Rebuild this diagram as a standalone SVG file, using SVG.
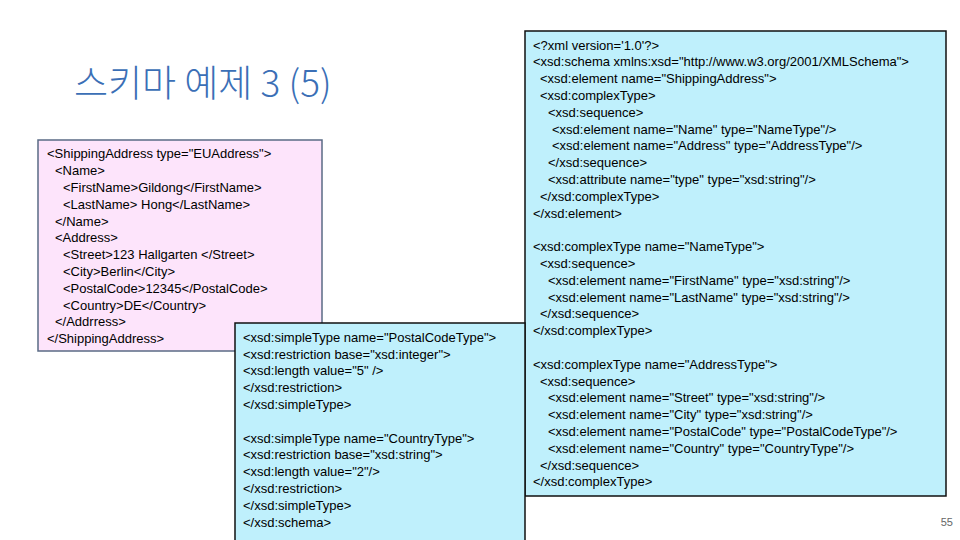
<svg xmlns="http://www.w3.org/2000/svg" width="960" height="540" viewBox="0 0 960 540">
<style>
.t{font-family:"Liberation Sans",Arial,sans-serif;font-size:13px;fill:#000;white-space:pre}
.box{stroke-width:1.5}
</style>
<rect width="960" height="540" fill="#fff"/>
<text x="74" y="97" font-family="'Noto Sans CJK KR','Noto Sans',sans-serif" font-size="37" font-weight="300" fill="#3b6fb6">스키마 예제 3 (5)</text>
<g id="xml-instance">
<rect class="box" x="38" y="140" width="284" height="211" fill="#fde4fb" stroke="#5a6b85" stroke-width="2"/>
<text class="t" x="47" y="158">&lt;ShippingAddress type="EUAddress"&gt;</text>
<text class="t" x="55" y="175">&lt;Name&gt;</text>
<text class="t" x="63" y="192">&lt;FirstName&gt;Gildong&lt;/FirstName&gt;</text>
<text class="t" x="63" y="209">&lt;LastName&gt; Hong&lt;/LastName&gt;</text>
<text class="t" x="55" y="226">&lt;/Name&gt;</text>
<text class="t" x="55" y="242">&lt;Address&gt;</text>
<text class="t" x="63" y="259">&lt;Street&gt;123 Hallgarten &lt;/Street&gt;</text>
<text class="t" x="63" y="276">&lt;City&gt;Berlin&lt;/City&gt;</text>
<text class="t" x="63" y="293">&lt;PostalCode&gt;12345&lt;/PostalCode&gt;</text>
<text class="t" x="63" y="310">&lt;Country&gt;DE&lt;/Country&gt;</text>
<text class="t" x="55" y="326">&lt;/Addrress&gt;</text>
<text class="t" x="47" y="343">&lt;/ShippingAddress&gt;</text>
</g>
<g id="schema-main">
<rect x="525" y="31" width="421" height="465" fill="#bff0fc" stroke="#111" stroke-width="1.5"/>
<text class="t" x="533" y="50">&lt;?xml version='1.0'?&gt;</text>
<text class="t" x="533" y="66">&lt;xsd:schema xmlns:xsd="http://www.w3.org/2001/XMLSchema"&gt;</text>
<text class="t" x="540" y="83">&lt;xsd:element name="ShippingAddress"&gt;</text>
<text class="t" x="540" y="100">&lt;xsd:complexType&gt;</text>
<text class="t" x="548" y="117">&lt;xsd:sequence&gt;</text>
<text class="t" x="552" y="134">&lt;xsd:element name="Name" type="NameType"/&gt;</text>
<text class="t" x="552" y="150">&lt;xsd:element name="Address" type="AddressType"/&gt;</text>
<text class="t" x="548" y="167">&lt;/xsd:sequence&gt;</text>
<text class="t" x="548" y="184">&lt;xsd:attribute name="type" type="xsd:string"/&gt;</text>
<text class="t" x="540" y="201">&lt;/xsd:complexType&gt;</text>
<text class="t" x="533" y="218">&lt;/xsd:element&gt;</text>
<text class="t" x="533" y="251">&lt;xsd:complexType name="NameType"&gt;</text>
<text class="t" x="540" y="268">&lt;xsd:sequence&gt;</text>
<text class="t" x="548" y="285">&lt;xsd:element name="FirstName" type="xsd:string"/&gt;</text>
<text class="t" x="548" y="302">&lt;xsd:element name="LastName" type="xsd:string"/&gt;</text>
<text class="t" x="540" y="318">&lt;/xsd:sequence&gt;</text>
<text class="t" x="533" y="335">&lt;/xsd:complexType&gt;</text>
<text class="t" x="533" y="369">&lt;xsd:complexType name="AddressType"&gt;</text>
<text class="t" x="540" y="386">&lt;xsd:sequence&gt;</text>
<text class="t" x="548" y="402">&lt;xsd:element name="Street" type="xsd:string"/&gt;</text>
<text class="t" x="548" y="419">&lt;xsd:element name="City" type="xsd:string"/&gt;</text>
<text class="t" x="548" y="436">&lt;xsd:element name="PostalCode" type="PostalCodeType"/&gt;</text>
<text class="t" x="548" y="453">&lt;xsd:element name="Country" type="CountryType"/&gt;</text>
<text class="t" x="540" y="470">&lt;/xsd:sequence&gt;</text>
<text class="t" x="533" y="486">&lt;/xsd:complexType&gt;</text>
</g>
<g id="schema-simple">
<rect x="235" y="323" width="290" height="220" fill="#bff0fc" stroke="#111" stroke-width="1.5"/>
<text class="t" x="243" y="342">&lt;xsd:simpleType name="PostalCodeType"&gt;</text>
<text class="t" x="243" y="359">&lt;xsd:restriction base="xsd:integer"&gt;</text>
<text class="t" x="243" y="375">&lt;xsd:length value="5" /&gt;</text>
<text class="t" x="243" y="392">&lt;/xsd:restriction&gt;</text>
<text class="t" x="243" y="409">&lt;/xsd:simpleType&gt;</text>
<text class="t" x="243" y="443">&lt;xsd:simpleType name="CountryType"&gt;</text>
<text class="t" x="243" y="459">&lt;xsd:restriction base="xsd:string"&gt;</text>
<text class="t" x="243" y="476">&lt;xsd:length value="2"/&gt;</text>
<text class="t" x="243" y="493">&lt;/xsd:restriction&gt;</text>
<text class="t" x="243" y="510">&lt;/xsd:simpleType&gt;</text>
<text class="t" x="243" y="527">&lt;/xsd:schema&gt;</text>
</g>
<g id="connectors"/>
<text x="953" y="526" text-anchor="end" font-family="'Liberation Sans',Arial,sans-serif" font-size="11" fill="#666">55</text>
</svg>
